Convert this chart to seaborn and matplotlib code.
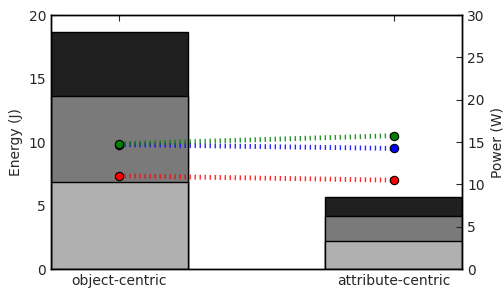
import numpy as np
import matplotlib
matplotlib.use('Agg')
import matplotlib.pyplot as plt
import seaborn as sns

sns.set_style('white')
plt.rcParams['font.family'] = ['DejaVu Sans']

# Data
categories = ['object-centric', 'attribute-centric']
energy_low = [6.83, 2.23]
energy_mid = [6.79, 1.94]
energy_top = [5.08, 1.50]

power_green = [14.8, 15.75]
power_blue = [14.7, 14.25]
power_red = [11.0, 10.5]

c1 = np.array(energy_low)
c2 = c1 + np.array(energy_mid)
c3 = c2 + np.array(energy_top)

fig = plt.figure(figsize=(5.04, 2.89), dpi=100)
ax = fig.add_axes([0.101, 0.069, 0.816, 0.879])

# stacked bars drawn as overlapping cumulative bars
sns.barplot(x=categories, y=c3, color='#202020', width=0.5, edgecolor='black',
            linewidth=1, saturation=1, ax=ax)
sns.barplot(x=categories, y=c2, color='#7a7a7a', width=0.5, edgecolor='black',
            linewidth=1, saturation=1, ax=ax)
sns.barplot(x=categories, y=c1, color='#b0b0b0', width=0.5, edgecolor='black',
            linewidth=1, saturation=1, ax=ax)

ax.set_xlim(-0.25, 1.25)
ax.set_ylim(0, 20)
ax.set_yticks([0, 5, 10, 15, 20])
ax.set_ylabel('Energy (J)', fontsize=10)
ax.xaxis.set_ticks_position('both')
ax.tick_params(axis='both', direction='in', length=4, labelsize=10,
               top=True, left=True, bottom=True, labeltop=False)
for s in ax.spines.values():
    s.set_color('black')
    s.set_linewidth(1)

ax2 = ax.twinx()
xpos = [0, 1]
for vals, col in [(power_red, 'red'), (power_blue, 'blue'), (power_green, 'green')]:
    ax2.plot(xpos, vals, color=col, linewidth=3.5, dashes=(0.28, 0.75), alpha=0.85)
    ax2.plot(xpos, vals, linestyle='none', marker='o', color=col,
             markersize=6, markeredgecolor='black', markeredgewidth=0.8)
ax2.set_ylim(0, 30)
ax2.set_yticks([0, 5, 10, 15, 20, 25, 30])
ax2.set_ylabel('Power (W)', fontsize=10)
ax2.tick_params(axis='y', direction='in', length=4, labelsize=10, right=True)
ax2.set_xlim(-0.25, 1.25)
for s in ax2.spines.values():
    s.set_color('black')
    s.set_linewidth(1)

fig.savefig('out.png', dpi=100)
